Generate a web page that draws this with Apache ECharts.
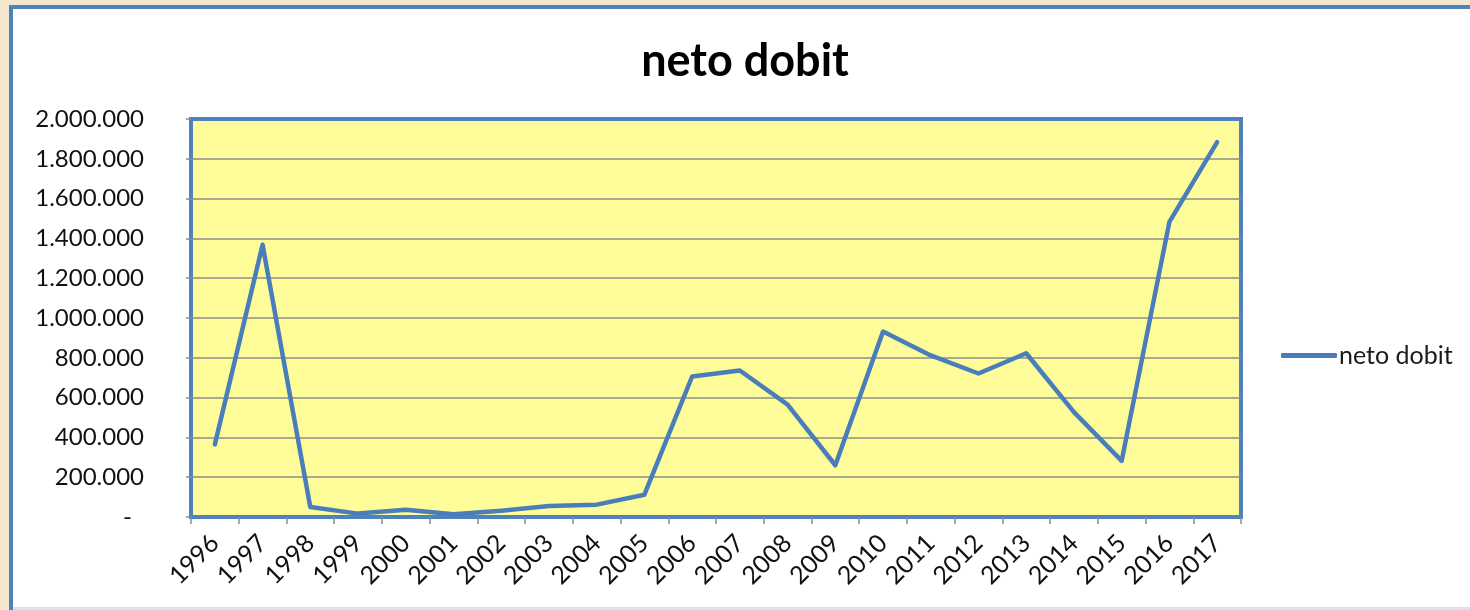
<!DOCTYPE html>
<html>
<head>
<meta charset="utf-8">
<title>neto dobit</title>
<script src="https://cdn.jsdelivr.net/npm/echarts@6/dist/echarts.min.js"></script>
<style>
  html, body { margin: 0; padding: 0; background: #f4e7d0; }
  #chart { width: 1470px; height: 610px; }
</style>
</head>
<body>
<div id="chart"></div>
<script>
// godine
var years = ['1996', '1997', '1998', '1999', '2000', '2001', '2002', '2003', '2004', '2005', '2006',
  '2007', '2008', '2009', '2010', '2011', '2012', '2013', '2014', '2015', '2016', '2017'];
// neto dobit po godini
var netoDobit = [365000, 1368000, 50000, 17000, 37000, 14000, 32000, 55000, 62000, 112000, 706000,
  736000, 565000, 260000, 932000, 812000, 721000, 823000, 527000, 282000, 1483000, 1884000];
var yTicks = { min: 0, max: 2000000, step: 200000 };

var fontFam = 'Lato, "Open Sans", sans-serif';
var blue = '#4f81bd';

function tocke(v) {
  if (v === 0) return '{d|-}';
  return String(v).replace(/\B(?=(\d{3})+(?!\d))/g, '.');
}

var chart = echarts.init(document.getElementById('chart'));
var option = {
  animation: false,
  backgroundColor: '#f4e7d0',
  textStyle: { fontFamily: fontFam },
  graphic: [{
    type: 'rect',
    z: -10,
    shape: { x: 11, y: 7, width: 1500, height: 612 },
    style: { fill: '#ffffff', stroke: blue, lineWidth: 4 }
  }, {
    type: 'rect',
    z: -9,
    shape: { x: 13, y: 607, width: 1460, height: 3 },
    style: { fill: '#d9e1ea' }
  }],
  title: {
    text: 'neto dobit',
    left: 745,
    textAlign: 'center',
    top: 34,
    textStyle: { fontFamily: fontFam, fontSize: 45, fontWeight: 'bold', color: '#000' }
  },
  legend: {
    data: ['neto dobit'],
    left: 1276,
    top: 338,
    icon: 'roundRect',
    itemWidth: 56,
    itemHeight: 5,
    textStyle: { fontFamily: fontFam, fontSize: 25, color: '#1a1a1a', padding: [0, 0, 0, -3] }
  },
  grid: {
    left: 191,
    right: 229,
    top: 119,
    bottom: 93,
    show: true,
    backgroundColor: '#fffd99',
    borderColor: blue,
    borderWidth: 4
  },
  xAxis: {
    type: 'category',
    data: years,
    boundaryGap: true,
    axisLine: { show: false },
    axisTick: { show: true, length: 7, lineStyle: { color: '#8c8c8c', width: 1.5 } },
    axisLabel: {
      rotate: 45,
      interval: 0,
      margin: 22,
      fontSize: 25,
      color: '#111',
      fontFamily: fontFam
    },
    splitLine: { show: false }
  },
  yAxis: {
    type: 'value',
    min: yTicks.min,
    max: yTicks.max,
    interval: yTicks.step,
    axisLine: { show: false },
    axisTick: { show: true, length: 5, lineStyle: { color: '#8c8c8c', width: 1.5 } },
    axisLabel: {
      margin: 47,
      fontSize: 24,
      color: '#111',
      fontFamily: fontFam,
      formatter: tocke,
      rich: { d: { fontSize: 24, fontFamily: fontFam, color: '#111', padding: [0, 12, 0, 0] } }
    },
    splitLine: { show: true, showMinLine: false, showMaxLine: false, lineStyle: { color: '#8c8c8c', width: 1.5 } }
  },
  series: [{
    name: 'neto dobit',
    type: 'line',
    data: netoDobit,
    showSymbol: false,
    symbol: 'none',
    color: '#4a7ebb',
    lineStyle: { color: '#4a7ebb', width: 4.5, cap: 'round', join: 'round' }
  }]
};
// naslov malo ulijevo
option.title.left = 740;
chart.setOption(option);
</script>
</body>
</html>
